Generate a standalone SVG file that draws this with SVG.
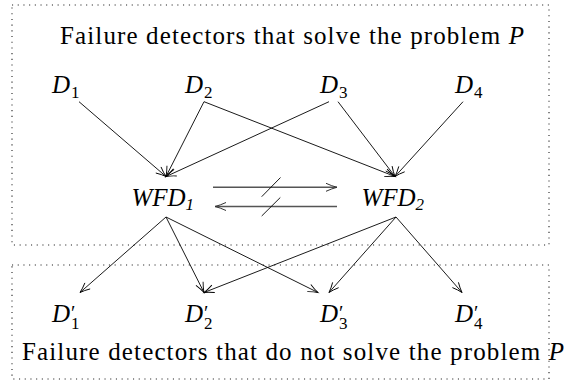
<svg xmlns="http://www.w3.org/2000/svg" width="564" height="382" viewBox="0 0 564 382">
<defs>
<style>
text{font-family:"Liberation Serif","Times New Roman",serif;fill:#000}
.lbl{font-size:25px;font-style:italic}
.sub{font-size:17px;font-style:normal}
.isub{font-size:17px;font-style:italic}
.pr{font-size:20px;font-style:normal}
.ttl{font-size:25px}
.box{fill:none;stroke:#222;stroke-width:1.1;stroke-dasharray:1.1 4.6}
.c{fill:none;stroke:#000;stroke-width:0.9;marker-end:url(#ah)}
.h{fill:none;stroke:#555;stroke-width:1.6;marker-end:url(#ah2)}
.sl{fill:none;stroke:#000;stroke-width:0.9}
</style>
<marker id="ah" markerUnits="userSpaceOnUse" viewBox="-11 -6 13 12" refX="0" refY="0" markerWidth="13" markerHeight="12" orient="auto">
<path d="M-10,-4 Q-4.5,-1.2 0,0 Q-4.5,1.2 -10,4" fill="none" stroke="#000" stroke-width="0.9"/>
</marker>
<marker id="ah2" markerUnits="userSpaceOnUse" viewBox="-11 -6 13 12" refX="0" refY="0" markerWidth="13" markerHeight="12" orient="auto">
<path d="M-11,-4 Q-5,-1.2 0,0 Q-5,1.2 -11,4" fill="none" stroke="#333" stroke-width="1"/>
</marker>
</defs>
<g id="region-solve">
<rect class="box" x="12" y="5" width="537" height="240"/>
<text class="ttl" x="60" y="44" textLength="464" lengthAdjust="spacing">Failure detectors that solve the problem <tspan font-style="italic">P</tspan></text>
</g>
<g id="region-notsolve">
<rect class="box" x="12" y="265" width="537" height="114"/>
<text class="ttl" x="22" y="360" textLength="542" lengthAdjust="spacing">Failure detectors that do not solve the problem <tspan font-style="italic">P</tspan></text>
</g>
<g id="connectors">
<line class="c" x1="79" y1="101.7" x2="166" y2="176.5"/>
<line class="c" x1="204" y1="101.7" x2="166" y2="176.5"/>
<line class="c" x1="329" y1="101.7" x2="166" y2="176.5"/>
<line class="c" x1="204" y1="101.7" x2="395" y2="176.5"/>
<line class="c" x1="338" y1="101.7" x2="395" y2="176.5"/>
<line class="c" x1="463" y1="101.7" x2="395" y2="176.5"/>
<line class="c" x1="166" y1="217" x2="80" y2="292.5"/>
<line class="c" x1="166" y1="217" x2="204" y2="292.5"/>
<line class="c" x1="166" y1="217" x2="318" y2="292.5"/>
<line class="c" x1="396" y1="217" x2="204" y2="292.5"/>
<line class="c" x1="396" y1="217" x2="329" y2="292.5"/>
<line class="c" x1="396" y1="217" x2="462" y2="292.5"/>
<line class="h" x1="213" y1="187.3" x2="337" y2="187.3"/>
<line class="h" x1="337" y1="206.5" x2="215" y2="206.5"/>
<line class="sl" x1="261.7" y1="196.7" x2="280.5" y2="177.5"/>
<line class="sl" x1="261.7" y1="216" x2="280.3" y2="197.5"/>
</g>
<g id="D1"><text class="lbl" x="52" y="93">D<tspan class="sub" x="71" y="98">1</tspan></text></g>
<g id="D2"><text class="lbl" x="185" y="93">D<tspan class="sub" x="204" y="98">2</tspan></text></g>
<g id="D3"><text class="lbl" x="320" y="93">D<tspan class="sub" x="339" y="98">3</tspan></text></g>
<g id="D4"><text class="lbl" x="455" y="93">D<tspan class="sub" x="474" y="98">4</tspan></text></g>
<g id="WFD1"><text class="lbl" x="131.5" y="206">WFD<tspan class="isub" x="185.5" y="210">1</tspan></text></g>
<g id="WFD2"><text class="lbl" x="361.5" y="206">WFD<tspan class="isub" x="415.5" y="210">2</tspan></text></g>
<g id="Dp1"><text class="lbl" x="52" y="322">D<tspan class="pr" x="71" y="320">′</tspan><tspan class="sub" x="71" y="329">1</tspan></text></g>
<g id="Dp2"><text class="lbl" x="185" y="322">D<tspan class="pr" x="204" y="320">′</tspan><tspan class="sub" x="204" y="329">2</tspan></text></g>
<g id="Dp3"><text class="lbl" x="320" y="322">D<tspan class="pr" x="339" y="320">′</tspan><tspan class="sub" x="339" y="329">3</tspan></text></g>
<g id="Dp4"><text class="lbl" x="455" y="322">D<tspan class="pr" x="474" y="320">′</tspan><tspan class="sub" x="474" y="329">4</tspan></text></g>
</svg>
